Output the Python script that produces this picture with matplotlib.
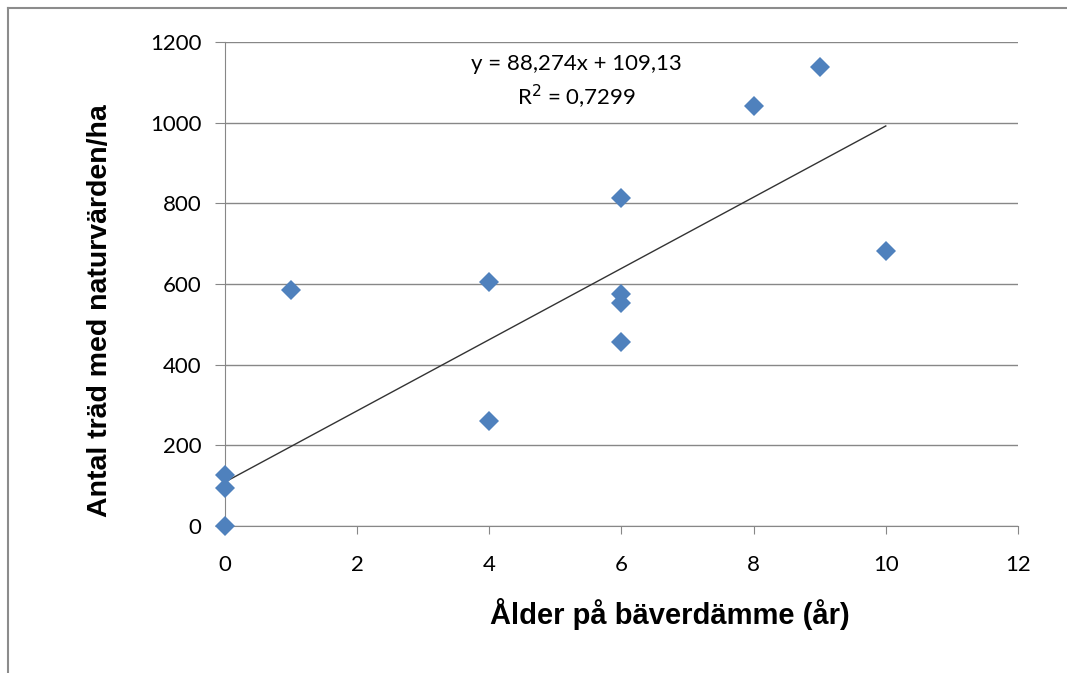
import numpy as np
import matplotlib.pyplot as plt
from matplotlib.lines import Line2D

# Ålder på bäverdämme (år) och antal träd med naturvärden/ha
alder = [0, 0, 0, 1, 4, 4, 6, 6, 6, 6, 8, 9, 10]
antal_trad = [0, 94, 127, 585, 605, 260, 812, 575, 553, 456, 1041, 1138, 682]

# Trendlinje enligt Excel
k = 88.274
m = 109.13
x_ticks = [0, 2, 4, 6, 8, 10, 12]
y_ticks = [0, 200, 400, 600, 800, 1000, 1200]

fig = plt.figure(figsize=(10.67, 6.73), dpi=100)
ax = fig.add_axes([0.2109, 0.2184, 0.7431, 0.7192])

# Ram runt diagrammet
fig.add_artist(Line2D([0.0075, 0.0075], [0, 0.988], color='#8c8c8c', lw=1.5, transform=fig.transFigure))
fig.add_artist(Line2D([0.0075, 1.0], [0.988, 0.988], color='#8c8c8c', lw=1.5, transform=fig.transFigure))

ax.set_axisbelow(True)
ax.grid(axis='y', color='#878787', lw=1)

xs = np.array([0, 10])
ax.plot(xs, k * xs + m, color='#333333', lw=1, zorder=2)
ax.plot(alder, antal_trad, 'D', color='#4f81bd', markersize=10, markeredgewidth=0,
        zorder=3, clip_on=False)

ax.set_xlim(0, 12)
ax.set_ylim(0, 1200)
ax.set_xticks(x_ticks)
ax.set_yticks(y_ticks)
for s in ['top', 'right']:
    ax.spines[s].set_visible(False)
ax.spines['left'].set_color('#878787')
ax.spines['bottom'].set_color('#878787')
ax.tick_params(axis='y', length=7, color='#878787', labelsize=16, pad=10)
ax.tick_params(axis='x', length=6, color='#878787', labelsize=16, pad=15)
for lab in ax.get_xticklabels() + ax.get_yticklabels():
    lab.set_fontfamily(['Lato', 'DejaVu Sans'])

ax.text(0.443, 0.955, 'y = 88,274x + 109,13', transform=ax.transAxes, ha='center', va='center',
        fontsize=16, family=['Lato', 'DejaVu Sans'])
ax.text(0.443, 0.887, 'R$^2$ = 0,7299', transform=ax.transAxes, ha='center', va='center',
        fontsize=16, family=['Lato', 'DejaVu Sans'])

ax.set_xlabel('Ålder på bäverdämme (år)', fontsize=21, fontweight='bold',
              family=['Liberation Sans', 'DejaVu Sans'])
ax.set_ylabel('Antal träd med naturvärden/ha', fontsize=20.5, fontweight='bold',
              family=['Liberation Sans', 'DejaVu Sans'])
ax.xaxis.set_label_coords(0.561, -0.148)
ax.yaxis.set_label_coords(-0.141, 0.446)

plt.savefig('out.png', dpi=100)
